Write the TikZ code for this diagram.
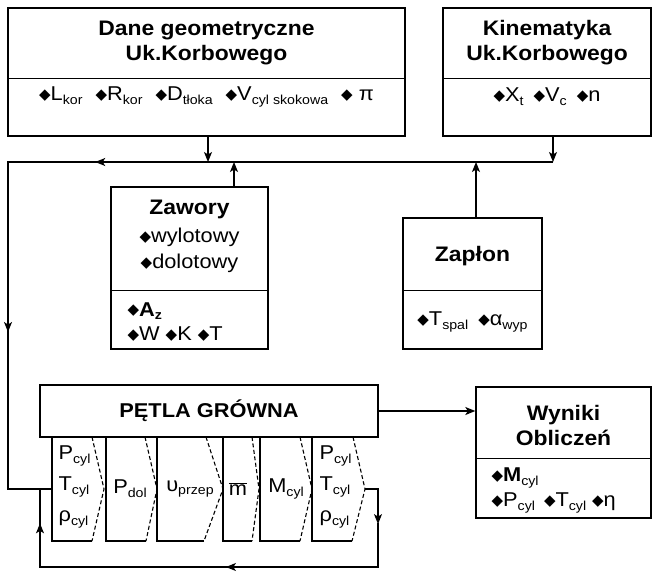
\documentclass[tikz,border=0pt]{standalone}
\usepackage{fontspec}
\setmainfont{Liberation Sans}[FakeStretch=1.09]
\newfontfamily\symfont{DejaVu Sans}
\usetikzlibrary{arrows.meta}
\usetikzlibrary{calc,positioning}

\newcommand{\dia}{\raisebox{0.1ex}{\symfont\fontsize{15}{15}\selectfont ◆}}
\newcommand{\sbs}[1]{\raisebox{-0.35ex}{\fontsize{13}{13}\selectfont #1}}

\begin{document}
\begin{tikzpicture}[x=1pt,y=-1pt,line width=1.2pt,>={Stealth[length=10pt,width=8pt,inset=2.5pt]}]
    \tikzstyle{blok}=[draw, line width=1.4pt, inner sep=0pt]
    \tikzstyle{tytul}=[align=center, inner sep=0pt, font=\bfseries\fontsize{21}{25}\selectfont]
    \tikzstyle{lista}=[inner sep=0pt, font=\fontsize{20}{26}\selectfont]
    \tikzstyle{szew}=[dash pattern=on 4pt off 2.5pt, line width=1.1pt]

    \useasboundingbox (0,0) rectangle (652,572);

    % bloki
    \node[blok, minimum width=397pt, minimum height=128pt] (dane)  at (206.5,72) {};
    \node[blok, minimum width=208pt, minimum height=128pt] (kin)   at (547,72) {};
    \node[blok, minimum width=157pt, minimum height=162pt] (zaw)   at (189.5,268) {};
    \node[blok, minimum width=139pt, minimum height=131pt] (zap)   at (472.5,283.5) {};
    \node[blok, minimum width=338pt, minimum height=52pt]  (petla) at (209,411) {};
    \node[blok, minimum width=175pt, minimum height=131pt] (wyn)   at (563.5,452.5) {};

    \draw[line width=1.4pt] ([yshift=-71pt]dane.north west) -- ([yshift=-71pt]dane.north east);
    \draw[line width=1.4pt] ([yshift=-71pt]kin.north west) -- ([yshift=-71pt]kin.north east);
    \draw[line width=1.4pt] ([yshift=-104pt]zaw.north west) -- ([yshift=-104pt]zaw.north east);
    \draw[line width=1.4pt] ([yshift=-73pt]zap.north west) -- ([yshift=-73pt]zap.north east);
    \draw[line width=1.4pt] ([yshift=-72pt]wyn.north west) -- ([yshift=-72pt]wyn.north east);

    % teksty
    \node[tytul] (daneT) at (206.5,43) {Dane geometryczne\\Uk.Korbowego};
    \node[lista] (daneL) at (206.5,97) {\dia L\sbs{kor}\hspace{13pt}\dia R\sbs{kor}\hspace{13pt}\dia D\sbs{tłoka}\hspace{13pt}\dia V\sbs{cyl skokowa}\hspace{13pt}\dia\ π};
    \node[tytul] (kinT) at (547,43) {Kinematyka\\Uk.Korbowego};
    \node[lista] (kinL) at (547,97) {\dia X\sbs{t}\hspace{10pt}\dia V\sbs{c}\hspace{10pt}\dia n};
    \node[tytul] (zawT) at (189.5,209) {Zawory};
    \node[lista, align=center] (zawR) at (189.5,250) {\dia wylotowy\\\dia dolotowy};
    \node[lista, anchor=west] (zawA) at (127,311) {\dia\textbf{A\sbs{z}}};
    \node[lista, anchor=west] (zawW) at (127,334) {\dia W\hspace{6pt}\dia K\hspace{6pt}\dia T};
    \node[tytul] (zapT) at (472.5,256) {Zapłon};
    \node[lista] (zapL) at (472.5,322) {\dia T\sbs{spal}\hspace{10pt}\dia α\sbs{wyp}};
    \node[inner sep=0pt, font=\bfseries\fontsize{20}{24}\selectfont] (petlaT) at (209,411) {PĘTLA GRÓWNA};
    \node[tytul] (wynT) at (563.5,425) {Wyniki\\Obliczeń};
    \node[lista, anchor=west] (wynM) at (491,478) {\dia\textbf{M}\sbs{cyl}};
    \node[lista, anchor=west] (wynP) at (491,503) {\dia P\sbs{cyl}\hspace{9pt}\dia T\sbs{cyl}\hspace{6pt}\dia η};

    % petla - kroki
    \foreach \L/\a/\t/\b [count=\i] in {52/92/104/92, 106/145/157/146, 157/206/223/204, 223/252/259/252, 260/300/312/300, 312/353/365/352} {
      \draw (\b,541) -- (\L,541) -- (\L,437);
      \draw[szew] (\a,437) -- (\t,489) -- (\b,541);
      \coordinate (tip\i) at (\t,489);
      \coordinate (lft\i) at (\L,489);
    }
    \node[lista, anchor=west, align=left, font=\fontsize{20}{31}\selectfont] (k1) at (58,487) {P\sbs{cyl}\\T\sbs{cyl}\\ρ\sbs{cyl}};
    \node[lista] (k2) at (130,489) {P\sbs{dol}};
    \node[lista] (k3) at (190,489) {υ\sbs{przep}};
    \node[lista] (k4) at (238,489) {$\overline{\mbox{m}}$};
    \node[lista] (k5) at (286,489) {M\sbs{cyl}};
    \node[lista, anchor=west, align=left, font=\fontsize{20}{31}\selectfont] (k6) at (319,487) {P\sbs{cyl}\\T\sbs{cyl}\\ρ\sbs{cyl}};

    % polaczenia
    \coordinate (hp) at (553,162);
    \coordinate (hl) at (8,162);
    \coordinate (dl) at (8,489);
    \coordinate (zx) at (234,162);
    \coordinate (zpx) at (476,162);
    \draw[->] ([xshift=1.5pt]dane.south) -- ([xshift=1.5pt]dane.south |- hp);
    \draw[->] (kin.south -| hp) -- (hp);
    \draw[->] (zaw.north -| zx) -- (zx);
    \draw[->] (zap.north -| zpx) -- (zpx);
    \draw[->] (hp) -- ($(hp)!0.84!(hl)$);
    \draw ($(hp)!0.83!(hl)$) -- (hl) -- ($(hl)!0.52!(dl)$);
    \draw[->] ($(hl)!0.4!(dl)$) -- ($(hl)!0.52!(dl)$);
    \draw ($(hl)!0.51!(dl)$) -- (dl) -- (lft1);
    \draw[->] (petla.east) -- (petla.east -| wyn.west);

    \coordinate (p1) at (378,489);
    \coordinate (p2) at (378,567);
    \coordinate (p3) at (40,567);
    \coordinate (p4) at (40,489);
    \draw[->] (tip6) -- (p1) -- ($(p1)!0.45!(p2)$);
    \draw ($(p1)!0.44!(p2)$) -- (p2) -- (p3) -- (p4);
    \draw[->] (p2) -- ($(p2)!0.45!(p3)$);
    \draw[->] (p3) -- ($(p3)!0.56!(p4)$);
\end{tikzpicture}
\end{document}
